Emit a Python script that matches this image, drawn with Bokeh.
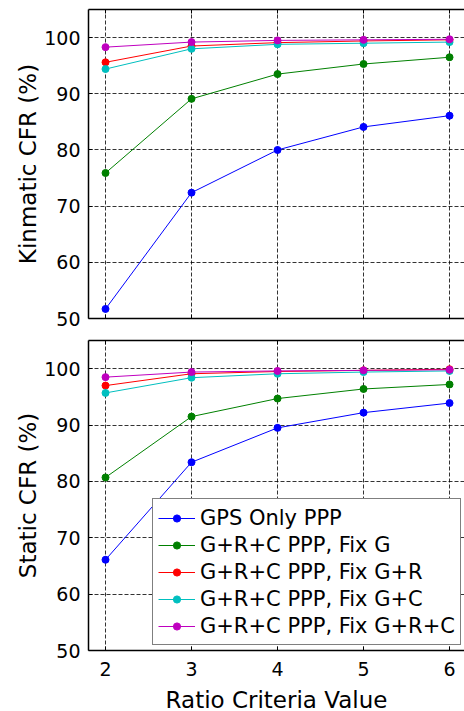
from bokeh.plotting import figure
from bokeh.layouts import column
from bokeh.models import LinearAxis, FixedTicker, Legend
from bokeh.embed import file_html
from bokeh.resources import INLINE

ratio = [2, 3, 4, 5, 6]
series_names = ["GPS Only PPP", "G+R+C PPP, Fix G", "G+R+C PPP, Fix G+R",
                "G+R+C PPP, Fix G+C", "G+R+C PPP, Fix G+R+C"]
series_colors = ["#0000ff", "#008000", "#ff0000", "#00bfbf", "#bf00bf"]

kin_gps = [51.7, 72.4, 80.0, 84.1, 86.1]
kin_fix_g = [75.9, 89.1, 93.5, 95.3, 96.5]
kin_fix_gr = [95.6, 98.5, 99.1, 99.4, 99.6]
kin_fix_gc = [94.4, 98.0, 98.8, 99.0, 99.2]
kin_fix_grc = [98.3, 99.2, 99.5, 99.6, 99.7]

sta_gps = [66.1, 83.4, 89.5, 92.2, 93.9]
sta_fix_g = [80.7, 91.5, 94.7, 96.4, 97.2]
sta_fix_gr = [97.0, 99.1, 99.5, 99.7, 99.9]
sta_fix_gc = [95.7, 98.4, 99.1, 99.4, 99.6]
sta_fix_grc = [98.5, 99.4, 99.6, 99.7, 99.8]

x_ticks = [2, 3, 4, 5, 6]
y_ticks = [50, 60, 70, 80, 90, 100]

FONT = "DejaVu Sans"


def style_axis(ax, ticks, show_labels):
    ax.ticker = FixedTicker(ticks=ticks)
    ax.axis_line_color = "black"
    ax.axis_line_width = 1.5
    ax.major_tick_in = 4
    ax.major_tick_out = 0
    ax.minor_tick_line_color = None
    ax.major_tick_line_color = "black"
    ax.major_label_text_font = FONT
    ax.axis_label_text_font = FONT
    ax.axis_label_text_font_style = "normal"
    ax.axis_label_text_color = "black"
    if show_labels:
        ax.major_label_text_font_size = "19px"
        ax.axis_label_text_font_size = "23px"
        ax.major_label_text_color = "black"
    else:
        # tick marks only: labels are not drawn
        ax.major_label_text_font_size = "1px"
        ax.major_label_text_color = None
        ax.major_label_standoff = 0


def make_panel(ylabel, data, show_x, min_top, min_bottom, frame_h, legend=False):
    p = figure(width=464, frame_width=376, frame_height=frame_h,
               x_range=(1.802, 6.174), y_range=(50, 105),
               output_backend="svg", toolbar_location=None,
               min_border_left=88, min_border_right=0,
               min_border_top=min_top, min_border_bottom=min_bottom)
    p.outline_line_color = None
    p.background_fill_color = "white"
    p.border_fill_color = "white"

    for ax in p.yaxis:
        style_axis(ax, y_ticks, True)
        ax.major_label_standoff = 8
        ax.axis_label_standoff = 0
    for ax in p.xaxis:
        style_axis(ax, x_ticks, show_x)
        if show_x:
            ax.major_label_standoff = 11
            ax.axis_label_standoff = 8
    p.yaxis.axis_label = ylabel
    if show_x:
        p.xaxis.axis_label = "Ratio Criteria Value"

    top = LinearAxis()
    style_axis(top, x_ticks, False)
    p.add_layout(top, "above")

    p.xgrid.ticker = FixedTicker(ticks=x_ticks)
    p.ygrid.ticker = FixedTicker(ticks=y_ticks)
    for g in (p.xgrid, p.ygrid):
        g.grid_line_color = "black"
        g.grid_line_alpha = 0.8
        g.grid_line_dash = "4 2"
        g.grid_line_width = 1

    items = []
    for name, color, ys in zip(series_names, series_colors, data):
        r1 = p.line(ratio, ys, line_color=color, line_width=1)
        r2 = p.scatter(ratio, ys, size=7, fill_color=color, line_color=color)
        items.append((name, [r1, r2]))

    if legend:
        lg = Legend(items=items, location=(64, 5))
        lg.label_text_font = FONT
        lg.label_text_font_size = "21px"
        lg.label_text_color = "black"
        lg.border_line_color = "black"
        lg.border_line_width = 1.5
        lg.background_fill_alpha = 1
        lg.padding = 5
        lg.spacing = 0
        lg.margin = 0
        lg.glyph_width = 37
        lg.glyph_height = 18
        lg.label_height = 27
        lg.label_standoff = 5
        p.add_layout(lg, "center")
    return p


p1 = make_panel("Kinmatic CFR (%)",
                [kin_gps, kin_fix_g, kin_fix_gr, kin_fix_gc, kin_fix_grc],
                False, 9, 11, 309)
p2 = make_panel("Static CFR (%)",
                [sta_gps, sta_fix_g, sta_fix_gr, sta_fix_gc, sta_fix_grc],
                True, 11, 61, 310, legend=True)

layout = column(p1, p2, spacing=0)

open("out.html", "w").write(file_html(layout, INLINE))
